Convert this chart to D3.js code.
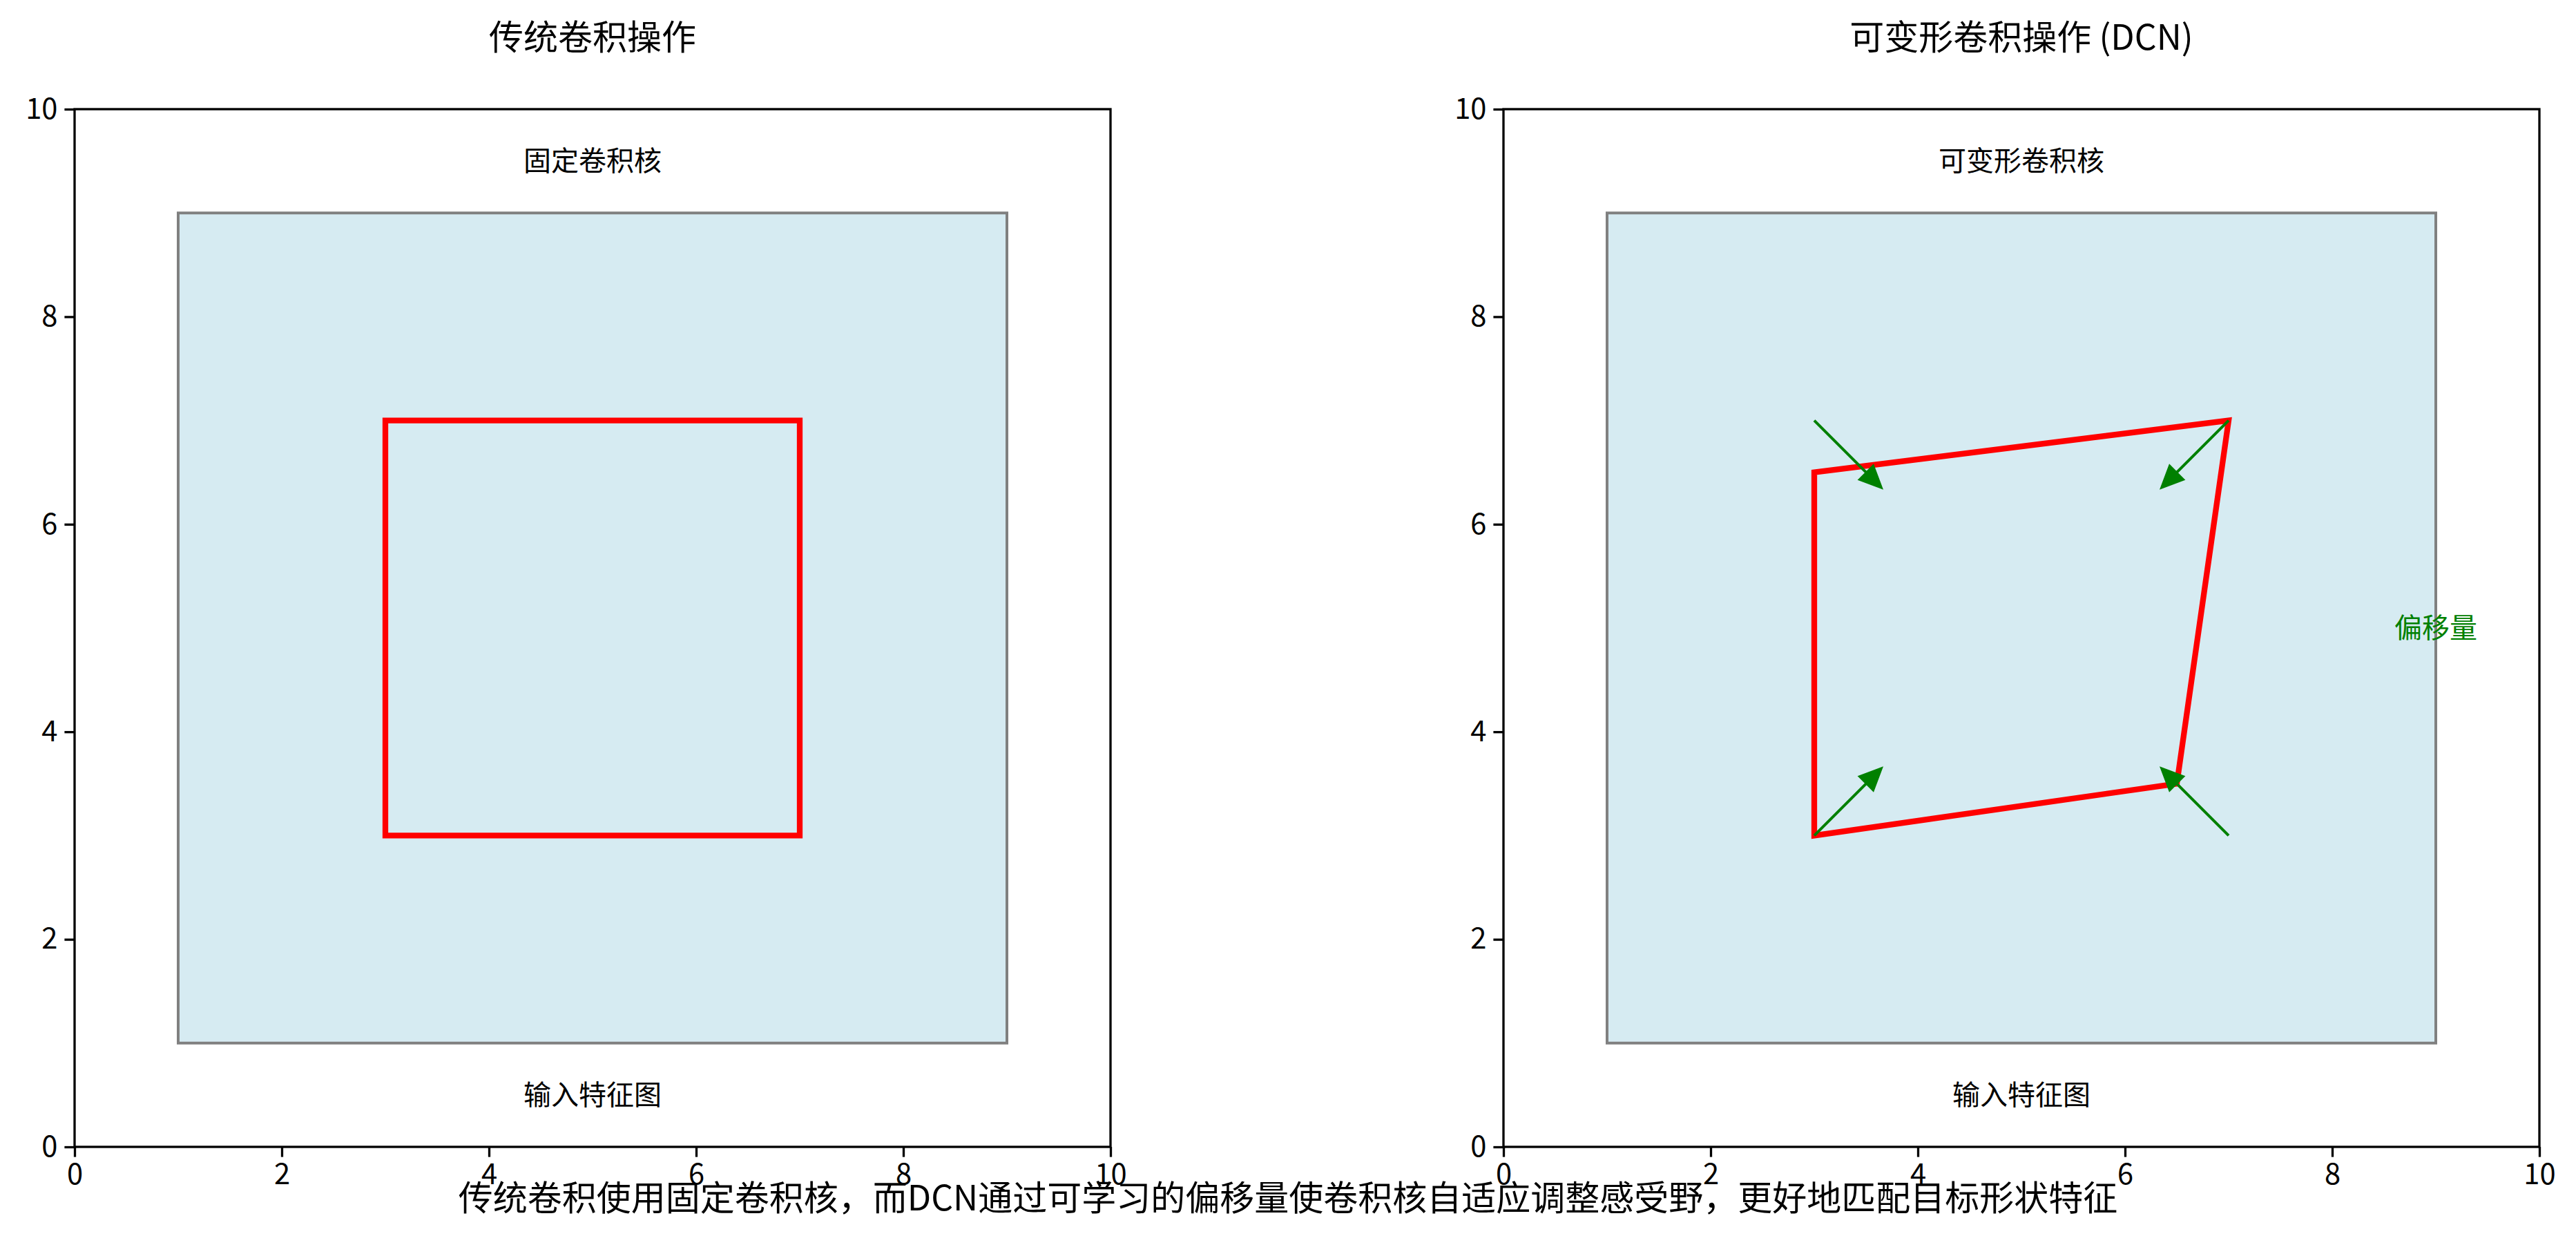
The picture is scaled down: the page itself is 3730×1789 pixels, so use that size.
<!DOCTYPE html>
<html><head><meta charset="utf-8">
<script src="https://cdn.jsdelivr.net/npm/d3@7"></script>
<style>body{margin:0;background:#fff}text{font-family:"Noto Sans CJK SC","Noto Sans",sans-serif}</style>
</head><body><svg id="c" width="3730" height="1789"></svg>
<script>
const titles = ["传统卷积操作", "可变形卷积操作 (DCN)"];
const ticks = [0, 2, 4, 6, 8, 10];
const featureMap = [[1,1],[9,1],[9,9],[1,9]];
const fixedKernel = [[3,3],[7,3],[7,7],[3,7]];
const deformKernel = [[3,6.5],[7,7],[6.5,3.5],[3,3]];
const arrowStarts = [[3,7],[7,7],[3,3],[7,3]];
const arrowDeltas = [[0.5,-0.5],[-0.5,-0.5],[0.5,0.5],[-0.5,0.5]];
const topLabels = ["固定卷积核", "可变形卷积核"];
const bottomLabel = "输入特征图";
const offsetLabel = "偏移量";
const footer = "传统卷积使用固定卷积核，而DCN通过可学习的偏移量使卷积核自适应调整感受野，更好地匹配目标形状特征";

(function(){
const svg = d3.select("#c");
const W = 1500, H = 1502, T0 = 158;
const lefts = [108, 2177];
lefts.forEach((L, i) => {
  const x = d3.scaleLinear().domain([0,10]).range([L, L+W]);
  const y = d3.scaleLinear().domain([0,10]).range([T0+H, T0]);
  const g = svg.append("g");
  const line = d3.line().x(d=>x(d[0])).y(d=>y(d[1]));
  g.append("path").attr("d", line(featureMap)+"Z").attr("fill","rgba(173,216,230,0.5)").attr("stroke","rgb(128,128,128)").attr("stroke-width",4);
  g.append("path").attr("d", line(i===0?fixedKernel:deformKernel)+"Z").attr("fill","none").attr("stroke","red").attr("stroke-width",8.3).attr("stroke-linejoin","miter");
  if (i===1) {
    const hw = 0.2, hl = 0.22;
    arrowStarts.forEach((s, k) => {
      const d = arrowDeltas[k];
      const len = Math.hypot(d[0], d[1]);
      const ux = d[0]/len, uy = d[1]/len;
      const e = [s[0]+d[0], s[1]+d[1]];
      const tip = [e[0]+ux*hl, e[1]+uy*hl];
      const px = -uy, py = ux;
      g.append("path").attr("d", line([s, e])).attr("stroke","green").attr("stroke-width",4);
      g.append("path").attr("d", line([[e[0]+px*hw/2, e[1]+py*hw/2], tip, [e[0]-px*hw/2, e[1]-py*hw/2]])+"Z").attr("fill","green").attr("stroke","green").attr("stroke-width",2);
    });
    g.append("text").attr("x", x(9)).attr("y", y(5)).attr("dy","0.35em").attr("text-anchor","middle").attr("font-size",40).attr("fill","green").text(offsetLabel);
  }
  g.append("text").attr("x", x(5)).attr("y", y(9.5)).attr("dy","0.35em").attr("text-anchor","middle").attr("font-size",40).text(topLabels[i]);
  g.append("text").attr("x", x(5)).attr("y", y(0.5)).attr("dy","0.35em").attr("text-anchor","middle").attr("font-size",40).text(bottomLabel);
  g.append("text").attr("x", L+W/2).attr("y", 72).attr("text-anchor","middle").attr("font-size",50).text(titles[i]);
  const xa = g.append("g").attr("transform",`translate(0,${T0+H})`).call(d3.axisBottom(x).tickValues(ticks).tickSize(14.6).tickPadding(10));
  const ya = g.append("g").attr("transform",`translate(${L},0)`).call(d3.axisLeft(y).tickValues(ticks).tickSize(14.6).tickPadding(10));
  [xa, ya].forEach(a => { a.selectAll("text").attr("font-size",41.7).attr("font-family","'DejaVu Sans',sans-serif"); a.selectAll("line").attr("stroke-width",3.3); a.select(".domain").remove(); });
  g.append("rect").attr("x",L).attr("y",T0).attr("width",W).attr("height",H).attr("fill","none").attr("stroke","#000").attr("stroke-width",3.3);
});
svg.append("text").attr("x",1865).attr("y",1752).attr("text-anchor","middle").attr("font-size",50).text(footer);
})();
</script></body></html>
